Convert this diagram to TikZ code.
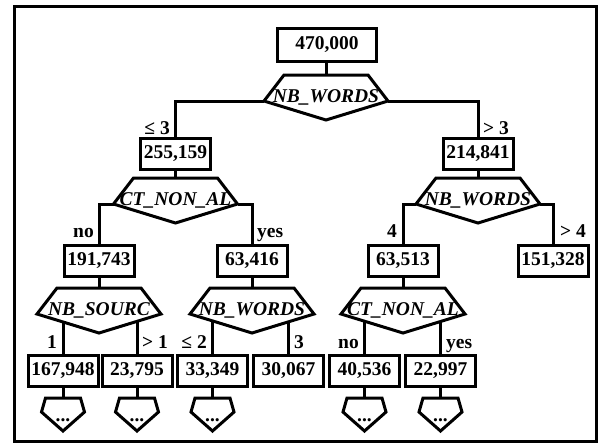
\documentclass[tikz,border=0pt]{standalone}
\usepackage{fontspec}
\setmainfont{Liberation Serif}
\newcommand\numfont{\bfseries\fontsize{19.5}{21}\selectfont}
\newcommand\hexfont{\bfseries\itshape\fontsize{19.5}{21}\selectfont}
\tikzset{
  ln/.style={line width=3pt, line join=miter},
  box/.style={draw, ln, minimum width=70pt, minimum height=31pt, inner sep=2pt, font=\numfont},
  lab/.style={font=\numfont, inner sep=0pt},
  hextxt/.style={font=\hexfont, inner sep=0pt, anchor=base},
}
% hexagon decision node: name, centre x, top y, text
\newcommand\hexat[4]{%
  \draw[ln] (#2-42,#3) -- (#2+42,#3) -- (#2+62,#3+26) -- (#2,#3+45) -- (#2-62,#3+26) -- cycle;
  \node[hextxt] (#1) at (#2,#3+27) {#4};
  \coordinate (#1-top) at (#2,#3);
  \coordinate (#1-L) at (#2-62,#3+26);
  \coordinate (#1-R) at (#2+62,#3+26);
  \coordinate (#1-B) at (#2,#3+45);
}
% pentagon continuation node: name, centre x, top y
\newcommand\pentat[3]{%
  \draw[ln] (#2-17.5,#3) -- (#2+17.5,#3) -- (#2+21.5,#3+14) -- (#2,#3+33) -- (#2-21.5,#3+14) -- cycle;
  \node[lab, anchor=base] (#1) at (#2,#3+23) {...};
  \coordinate (#1-top) at (#2,#3);
}
\begin{document}
\begin{tikzpicture}[x=1pt,y=-1pt]
\useasboundingbox (0,0) rectangle (599,445);
\fill[white] (0,0) rectangle (599,445);
\draw[line width=3pt] (14.5,6.5) rectangle (596.5,441.5);

% level 0
\node[box, minimum width=99pt, minimum height=33pt] (root) at (327,44.5) {470,000};
\hexat{h1}{326}{75}{NB\_WORDS}
\draw[ln] (root.south -| h1-top) -- (h1-top);

% level 1
\node[box] (b2l) at (175.5,154) {255,159};
\node[box] (b2r) at (478,154) {214,841};
\draw[ln] (h1-L) -| (b2l);
\draw[ln] (h1-R) -| (b2r);
\node[lab, anchor=base east] (t1) at (170,134) {≤ 3};
\node[lab, anchor=base west] (t2) at (483,134) {> 3};

\hexat{h2l}{175.5}{178}{CT\_NON\_AL}
\hexat{h2r}{478}{178}{NB\_WORDS}
\draw[ln] (b2l) -- (h2l-top);
\draw[ln] (b2r) -- (h2r-top);

% level 2
\node[box] (b3a) at (99,261) {191,743};
\node[box] (b3b) at (252,261) {63,416};
\node[box] (b3c) at (403,261) {63,513};
\node[box] (b3d) at (553,261) {151,328};
\draw[ln] (h2l-L) -| (b3a);
\draw[ln] (h2l-R) -| (b3b);
\draw[ln] (h2r-L) -| (b3c);
\draw[ln] (h2r-R) -| (b3d);
\node[lab, anchor=base east] (t3) at (94,237) {no};
\node[lab, anchor=base west] (t4) at (257,237) {yes};
\node[lab, anchor=base east] (t5) at (397,237) {4};
\node[lab, anchor=base west] (t6) at (560,237) {> 4};

\hexat{h3a}{99}{288}{NB\_SOURC}
\hexat{h3b}{252}{288}{NB\_WORDS}
\hexat{h3c}{403}{288}{CT\_NON\_AL}
\draw[ln] (b3a) -- (h3a-top);
\draw[ln] (b3b) -- (h3b-top);
\draw[ln] (b3c) -- (h3c-top);

% level 3
\node[box] (l1) at (63,371) {167,948};
\node[box] (l2) at (137,371) {23,795};
\node[box] (l3) at (212.5,371) {33,349};
\node[box] (l4) at (288.5,371) {30,067};
\node[box] (l5) at (364.5,371) {40,536};
\node[box] (l6) at (440.5,371) {22,997};
\draw[ln] (intersection of h3a-L--h3a-B and l1.north--l1.center) -- (l1);
\draw[ln] (intersection of h3a-B--h3a-R and l2.north--l2.center) -- (l2);
\draw[ln] (intersection of h3b-L--h3b-B and l3.north--l3.center) -- (l3);
\draw[ln] (intersection of h3b-B--h3b-R and l4.north--l4.center) -- (l4);
\draw[ln] (intersection of h3c-L--h3c-B and l5.north--l5.center) -- (l5);
\draw[ln] (intersection of h3c-B--h3c-R and l6.north--l6.center) -- (l6);
\node[lab, anchor=base east] (t7) at (57,348) {1};
\node[lab, anchor=base west] (t8) at (142,348) {> 1};
\node[lab, anchor=base east] (t9) at (207,348) {≤ 2};
\node[lab, anchor=base west] (t10) at (294,348) {3};
\node[lab, anchor=base east] (t11) at (359,348) {no};
\node[lab, anchor=base west] (t12) at (446,348) {yes};

% continuation pentagons
\pentat{p1}{63}{398}
\pentat{p2}{137}{398}
\pentat{p3}{212.5}{398}
\pentat{p5}{364.5}{398}
\pentat{p6}{440.5}{398}
\draw[ln] (l1) -- (p1-top);
\draw[ln] (l2) -- (p2-top);
\draw[ln] (l3) -- (p3-top);
\draw[ln] (l5) -- (p5-top);
\draw[ln] (l6) -- (p6-top);
\end{tikzpicture}
\end{document}
